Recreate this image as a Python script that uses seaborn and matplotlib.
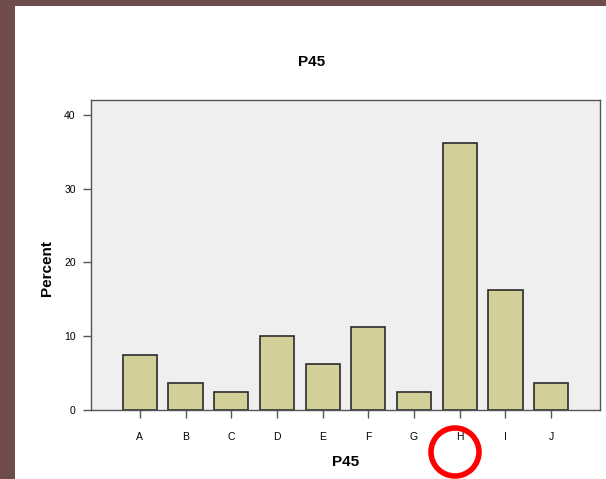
import matplotlib
matplotlib.use("Agg")
from matplotlib import pyplot as plt
from matplotlib.patches import Rectangle, Ellipse
import seaborn as sns
import pandas as pd

categories = ["A", "B", "C", "D", "E", "F", "G", "H", "I", "J"]
percent = [7.5, 3.7, 2.5, 10.0, 6.2, 11.3, 2.5, 36.2, 16.3, 3.7]
y_ticks = [0, 10, 20, 30, 40]

df = pd.DataFrame({"P45": categories, "Percent": percent})

sns.set_style("white")
plt.rcParams["font.family"] = ["Liberation Sans", "DejaVu Sans"]
plt.rcParams["text.color"] = "black"
plt.rcParams["axes.labelcolor"] = "black"
plt.rcParams["xtick.color"] = "black"
plt.rcParams["ytick.color"] = "black"

fig = plt.figure(figsize=(6.06, 4.79), dpi=100)
fig.patch.set_facecolor("white")

# brown frame on the left and top
fig.patches.append(Rectangle((0, 0), 15 / 606, 1, transform=fig.transFigure,
                             facecolor="#6e4c4c", edgecolor="none", zorder=0))
fig.patches.append(Rectangle((0, 1 - 6 / 479), 1, 6 / 479, transform=fig.transFigure,
                             facecolor="#6e4c4c", edgecolor="none", zorder=0))

ax = fig.add_axes([91 / 606, 69 / 479, 509 / 606, 310 / 479])
ax.set_facecolor("#efefef")

sns.barplot(data=df, x="P45", y="Percent", color="#d3cf98", saturation=1,
            edgecolor="#2b2b2b", linewidth=1.2, width=0.75, ax=ax)

ax.set_xlim(-1.07, 9 + 1.07)
ax.set_ylim(0, 42)
ax.set_yticks(y_ticks)
for s in ax.spines.values():
    s.set_color("#555555")
    s.set_linewidth(1)

ax.tick_params(axis="both", direction="out", length=6, width=1, color="#555555",
               labelsize=7.5, left=True, bottom=True)
ax.tick_params(axis="y", pad=5)
ax.tick_params(axis="x", pad=10)
ax.set_xlabel("P45", fontsize=11, fontweight="bold", labelpad=9)
ax.set_ylabel("")
fig.text(47 / 606, 1 - 268 / 479, "Percent", fontsize=11, fontweight="bold",
         rotation=90, ha="center", va="center")
fig.text(312 / 606, 1 - 62 / 479, "P45", fontsize=11, fontweight="bold",
         ha="center", va="center")

# red circle around H
fig.patches.append(Ellipse((455 / 606, 1 - 452 / 479), 48 / 606, 48 / 479,
                           transform=fig.transFigure, fill=False,
                           edgecolor="#ff0000", linewidth=4, zorder=5))

fig.savefig("out.png", dpi=100)
